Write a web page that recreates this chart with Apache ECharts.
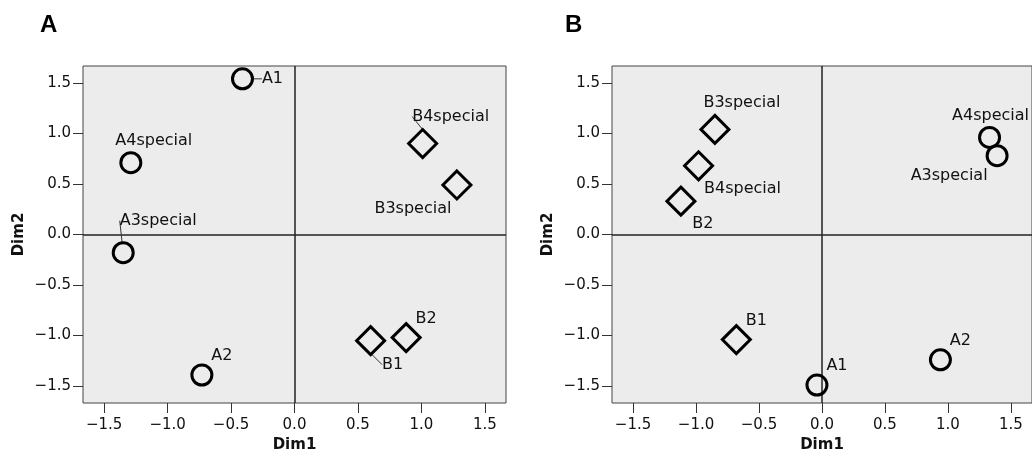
<!DOCTYPE html>
<html>
<head>
<meta charset="utf-8">
<script src="https://cdn.jsdelivr.net/npm/echarts@6/dist/echarts.min.js"></script>
<style>
  html, body { margin: 0; padding: 0; background: #fff; }
  #chart { width: 1032px; height: 461px; }
</style>
</head>
<body>
<div id="chart"></div>
<script>
(function() {
  // panel A
  var aCircleNames = ['A1', 'A4special', 'A3special', 'A2'];
  var aCircleX = [-0.41, -1.29, -1.35, -0.73];
  var aCircleY = [1.54, 0.71, -0.18, -1.39];
  var aDiamondNames = ['B4special', 'B3special', 'B1', 'B2'];
  var aDiamondX = [1.01, 1.28, 0.60, 0.88];
  var aDiamondY = [0.90, 0.49, -1.05, -1.02];

  // panel B
  var bCircleNames = ['A4special', 'A3special', 'A1', 'A2'];
  var bCircleX = [1.33, 1.39, -0.04, 0.94];
  var bCircleY = [0.96, 0.78, -1.49, -1.24];
  var bDiamondNames = ['B3special', 'B4special', 'B2', 'B1'];
  var bDiamondX = [-0.85, -0.98, -1.12, -0.68];
  var bDiamondY = [1.04, 0.68, 0.33, -1.04];

  var tickValues = [-1.5, -1.0, -0.5, 0.0, 0.5, 1.0, 1.5];

  // label placement (pixels from marker centre) and leader lines
  var labelOffset = {
    'A:A1': [30, 0], 'A:A4special': [23, -22], 'A:A3special': [35, -32], 'A:A2': [20, -19],
    'A:B4special': [28, -27], 'A:B3special': [-44, 24], 'A:B1': [22, 24], 'A:B2': [20, -19],
    'B:A4special': [1, -22], 'B:A3special': [-48, 20], 'B:A1': [20, -19], 'B:A2': [20, -19],
    'B:B3special': [27, -27], 'B:B4special': [44, 23], 'B:B2': [22, 23], 'B:B1': [20, -19]
  };
  var leader = { 'A:A1': 1, 'A:A3special': 1, 'A:B4special': 1, 'A:B1': 1 };

  var font = 'DejaVu Sans';
  var ink = '#111';

  function points(panel, names, xs, ys) {
    return names.map(function(n, i) {
      return {
        name: n,
        value: [xs[i], ys[i]],
        labelLine: { show: !!leader[panel + ':' + n] }
      };
    });
  }

  function series(panel, idx, symbol, size, names, xs, ys, withRefLines) {
    var s = {
      type: 'scatter',
      xAxisIndex: idx,
      yAxisIndex: idx,
      symbol: symbol,
      symbolSize: size,
      itemStyle: { color: 'rgba(0,0,0,0)', borderColor: '#000', borderWidth: 3, opacity: 1 },
      label: {
        show: true,
        position: 'inside',
        formatter: '{b}',
        color: ink,
        fontFamily: font,
        fontSize: 16
      },
      labelLayout: function(p) {
        var off = labelOffset[panel + ':' + names[p.dataIndex]];
        return { dx: off[0], dy: off[1] };
      },
      labelLine: { lineStyle: { color: '#333', width: 1 } },
      data: points(panel, names, xs, ys),
      z: 3
    };
    if (withRefLines) {
      s.markLine = {
        silent: true,
        symbol: 'none',
        label: { show: false },
        lineStyle: { color: '#222', width: 1.5, type: 'solid', opacity: 1 },
        data: [{ xAxis: 0 }, { yAxis: 0 }],
        z: 1
      };
    }
    return s;
  }

  function fmt(v) {
    var s = v.toFixed(1);
    return s.charAt(0) === '-' ? '\u2212' + s.slice(1) : s;
  }

  function axis(dim, idx) {
    return {
      type: 'value',
      gridIndex: idx,
      min: -1.667,
      max: 1.667,
      name: dim === 'x' ? 'Dim1' : 'Dim2',
      nameLocation: 'middle',
      nameGap: dim === 'x' ? 34 : 56,
      nameRotate: dim === 'x' ? 0 : 90,
      nameTextStyle: { color: ink, fontFamily: font, fontSize: 15, fontWeight: 'bold' },
      axisLine: { show: false, onZero: false },
      axisTick: {
        show: true, length: 10, customValues: tickValues,
        lineStyle: { color: '#333', width: 1 }
      },
      axisLabel: {
        customValues: tickValues,
        formatter: fmt,
        color: ink,
        fontFamily: font,
        fontSize: 15,
        margin: dim === 'x' ? 15 : 12
      },
      splitLine: { show: false }
    };
  }

  var gridStyle = { show: true, backgroundColor: '#ececec', borderColor: '#444', borderWidth: 1 };
  var titleStyle = { fontFamily: 'Liberation Sans', fontSize: 24, fontWeight: 'bold', color: '#000' };

  var chart = echarts.init(document.getElementById('chart'), null, { renderer: 'canvas' });
  chart.setOption({
    animation: false,
    title: [
      { text: 'A', left: 35, top: 8, textStyle: titleStyle },
      { text: 'B', left: 560, top: 8, textStyle: titleStyle }
    ],
    grid: [
      Object.assign({ left: 83, right: 526, top: 66, bottom: 58 }, gridStyle),
      Object.assign({ left: 612, right: -3, top: 66, bottom: 58 }, gridStyle)
    ],
    xAxis: [axis('x', 0), axis('x', 1)],
    yAxis: [axis('y', 0), axis('y', 1)],
    series: [
      series('A', 0, 'circle', 20, aCircleNames, aCircleX, aCircleY, true),
      series('A', 0, 'diamond', 28, aDiamondNames, aDiamondX, aDiamondY, false),
      series('B', 1, 'circle', 20, bCircleNames, bCircleX, bCircleY, true),
      series('B', 1, 'diamond', 28, bDiamondNames, bDiamondX, bDiamondY, false)
    ]
  });
  window.addEventListener('resize', function() { chart.resize(); });
})();
</script>
</body>
</html>
